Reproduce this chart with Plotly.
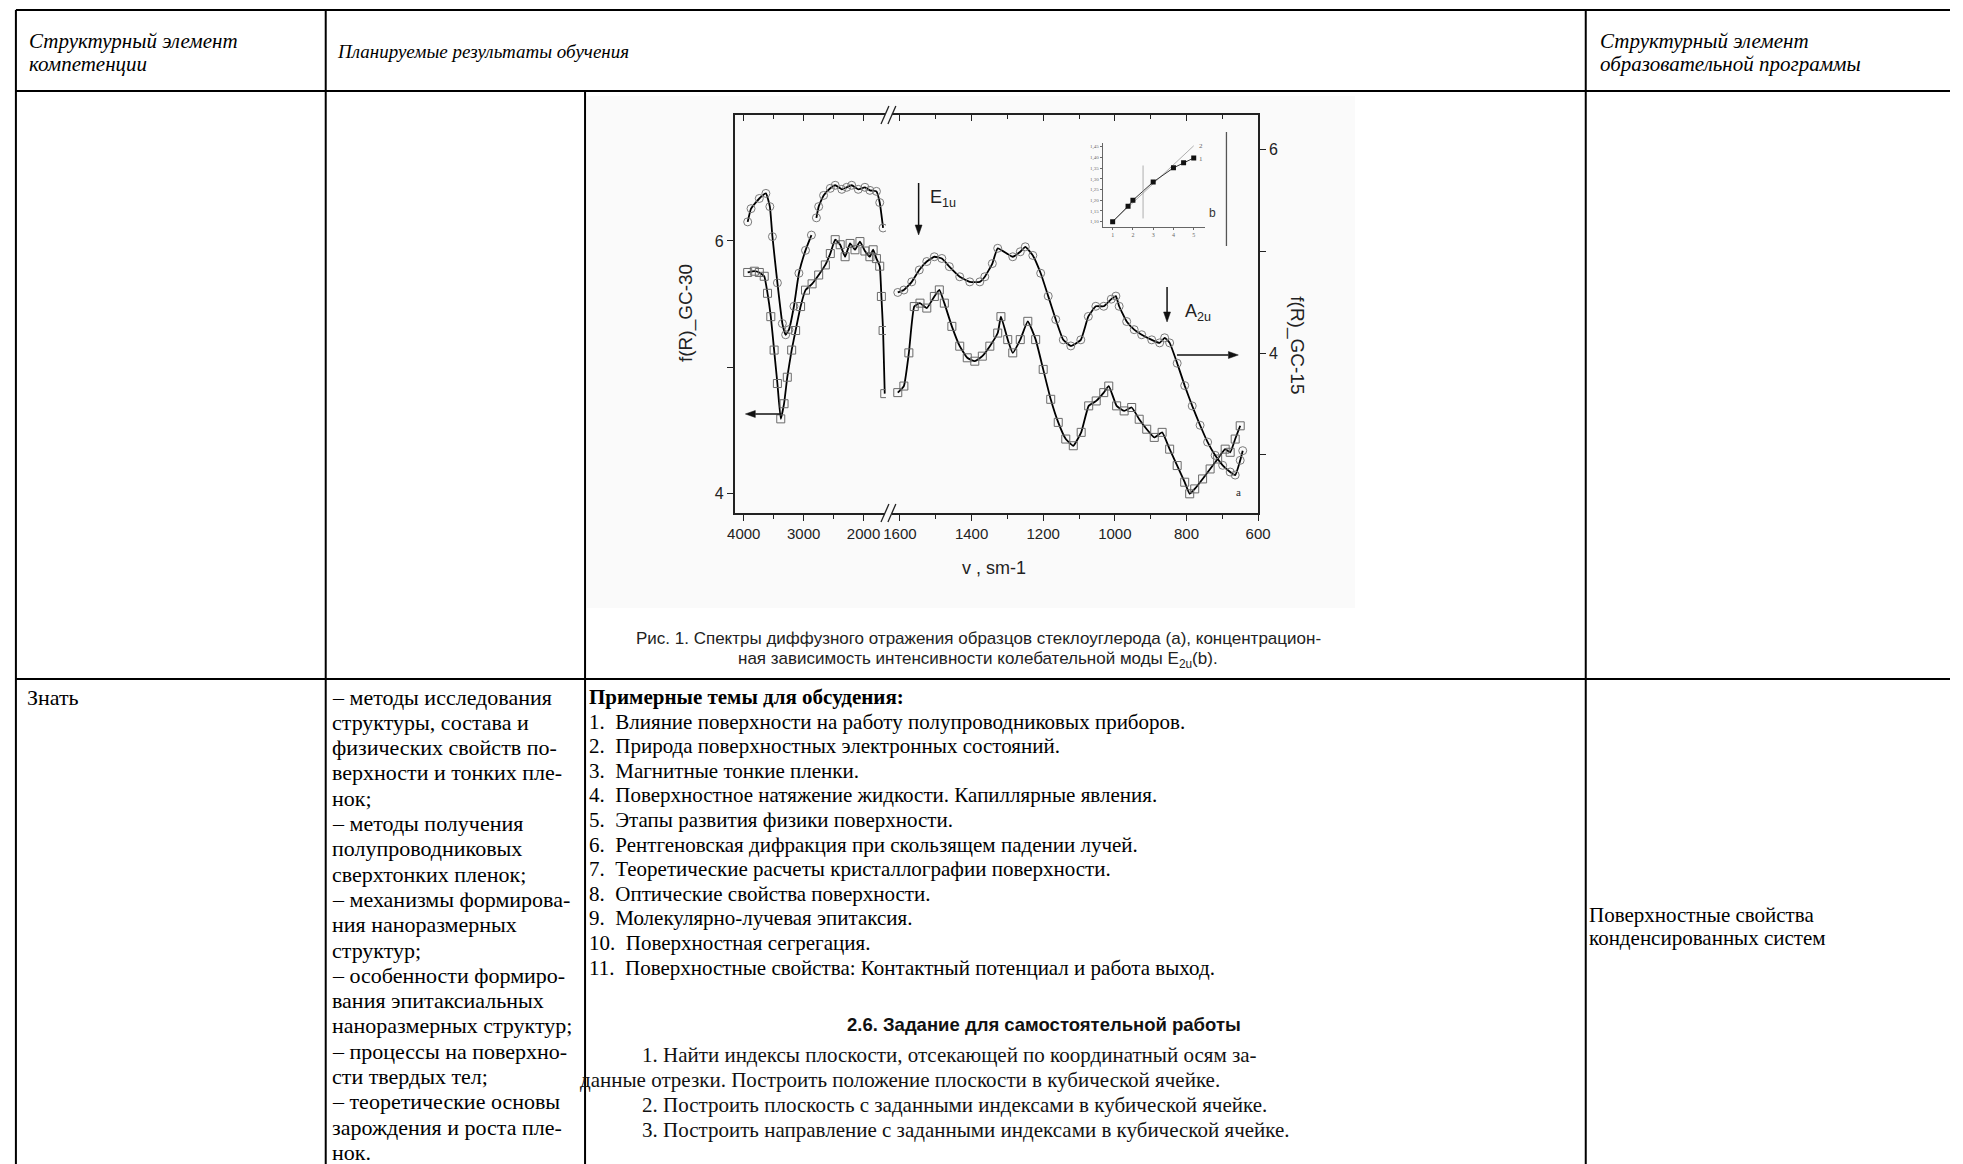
import math
import plotly.graph_objects as go

W, H = 1963, 1164

# ---------------- data ----------------
# left (broken) part of the wavenumber axis, cm^-1
wn_left_gc15 = [3934, 3878, 3740, 3630, 3564, 3521, 3438, 3355, 3300, 3245,
                3162, 3079, 2969, 2870, None, 2787, 2749, 2667, 2555, 2473,
                2363, 2281, 2198, 2088, 1977, 1894, 1785, 1730, 1674]
gc15_left = [5.29, 5.42, 5.52, 5.57, 5.44, 5.145, 4.69, 4.29, 4.18, 4.23,
             4.46, 4.785, 5.01, 5.16, None, 5.33, 5.44, 5.55, 5.62, 5.65,
             5.61, 5.63, 5.65, 5.61, 5.63, 5.60, 5.59, 5.48, 5.23]

wn_left_gc30 = [3934, 3823, 3740, 3658, 3603, 3548, 3493, 3438, 3382, 3327,
                3273, 3200, 3134, 3051, 2969, 2859, 2749, 2638, 2555, 2473,
                2390, 2308, 2225, 2143, 2060, 1977, 1894, 1840, 1785, 1730,
                1702, 1674, 1646]
gc30_left = [5.75, 5.76, 5.75, 5.72, 5.585, 5.40, 5.135, 4.87, 4.59, 4.71,
             4.92, 5.135, 5.29, 5.48, 5.61, 5.66, 5.73, 5.81, 5.90, 6.01,
             5.97, 5.875, 5.98, 5.93, 5.995, 5.92, 5.875, 5.93, 5.86, 5.80,
             5.56, 5.29, 4.79]

# right part of the wavenumber axis
wn_right_gc15 = [1606, 1589, 1567, 1546, 1525, 1504, 1483, 1462, 1433, 1405,
                 1377, 1363, 1342, 1327, 1285, 1264, 1250, 1229, 1207, 1186,
                 1165, 1144, 1123, 1095, 1074, 1053, 1031, 1010, 997, 988,
                 967, 946, 925, 897, 875, 861, 847, 826, 805, 784,
                 762, 741, 720, 699, 678, 664, 650, 643]
gc15_right = [4.596, 4.62, 4.70, 4.817, 4.90, 4.947, 4.93, 4.85, 4.75, 4.70,
              4.70, 4.75, 4.88, 5.03, 4.947, 4.996, 5.045, 4.96, 4.785, 4.56,
              4.33, 4.13, 4.07, 4.13, 4.36, 4.46, 4.46, 4.53, 4.56, 4.46,
              4.31, 4.23, 4.18, 4.13, 4.10, 4.15, 4.10, 3.90, 3.68, 3.48,
              3.29, 3.124, 2.994, 2.896, 2.83, 2.80, 2.945, 3.04]

wn_right_gc30 = [1606, 1589, 1575, 1560, 1544, 1525, 1504, 1490, 1476, 1455,
                 1433, 1412, 1391, 1370, 1349, 1327, 1318, 1299, 1285, 1264,
                 1243, 1221, 1200, 1179, 1158, 1137, 1116, 1094, 1073, 1052,
                 1031, 1017, 995, 974, 953, 932, 911, 890, 868, 847,
                 826, 805, 791, 777, 755, 734, 713, 692, 678, 664, 650]
gc30_right = [4.798, 4.85, 5.113, 5.48, 5.507, 5.468, 5.56, 5.612, 5.507, 5.323,
              5.166, 5.074, 5.047, 5.087, 5.166, 5.27, 5.40, 5.218, 5.113, 5.218,
              5.363, 5.218, 4.982, 4.745, 4.562, 4.43, 4.377, 4.483, 4.693, 4.732,
              4.798, 4.85, 4.693, 4.653, 4.68, 4.587, 4.508, 4.443, 4.483, 4.35,
              4.22, 4.088, 3.996, 4.035, 4.114, 4.193, 4.272, 4.35, 4.325, 4.43,
              4.535]

# inset (b)
inset_conc = [1, 1.76, 2, 3, 4, 4.5, 5]
inset_intensity = [1.10, 1.172, 1.20, 1.285, 1.351, 1.375, 1.397]
inset_line2_x = [1, 5]
inset_line2_y = [1.10, 1.454]

xticks_left = [4000, 3000, 2000]
xminor_left = [3500, 2500]
xticks_right = [1600, 1400, 1200, 1000, 800, 600]
xminor_right = [1500, 1300, 1100, 900, 700]

# ---------------- text ----------------
header_col1 = ["Структурный элемент", "компетенции"]
header_col2 = "Планируемые результаты обучения"
header_col4 = ["Структурный элемент", "образовательной программы"]
row_label = "Знать"
know_lines = [
    "– методы исследования", "структуры, состава и", "физических свойств по-",
    "верхности и тонких пле-", "нок;", "– методы получения",
    "полупроводниковых", "сверхтонких пленок;", "– механизмы формирова-",
    "ния наноразмерных", "структур;", "– особенности формиро-",
    "вания эпитаксиальных", "наноразмерных структур;", "– процессы на поверхно-",
    "сти твердых тел;", "– теоретические основы", "зарождения и роста пле-",
    "нок.",
]
topics_title = "Примерные темы для обсудения:"
topics = [
    "1.\u00a0\u00a0Влияние поверхности на работу полупроводниковых приборов.",
    "2.\u00a0\u00a0Природа поверхностных электронных состояний.",
    "3.\u00a0\u00a0Магнитные тонкие пленки.",
    "4.\u00a0\u00a0Поверхностное натяжение жидкости. Капиллярные явления.",
    "5.\u00a0\u00a0Этапы развития физики поверхности.",
    "6.\u00a0\u00a0Рентгеновская дифракция при скользящем падении лучей.",
    "7.\u00a0\u00a0Теоретические расчеты кристаллографии поверхности.",
    "8.\u00a0\u00a0Оптические свойства поверхности.",
    "9.\u00a0\u00a0Молекулярно-лучевая эпитаксия.",
    "10.\u00a0\u00a0Поверхностная сегрегация.",
    "11.\u00a0\u00a0Поверхностные свойства: Контактный потенциал и работа выход.",
]
task_title = "2.6. Задание для самостоятельной работы"
task_lines = [
    "1. Найти индексы плоскости, отсекающей по координатный осям за-",
    "данные отрезки. Построить положение плоскости в кубической ячейке.",
    "2. Построить плоскость с заданными индексами в кубической ячейке.",
    "3. Построить направление с заданными индексами в кубической ячейке.",
]
program_element = ["Поверхностные свойства", "конденсированных систем"]
caption = ["Рис. 1. Спектры диффузного отражения образцов стеклоуглерода (a), концентрацион-",
           "ная зависимость интенсивности колебательной моды E<sub>2u</sub>(b)."]


def X(px):
    return px / W


def Y(py):
    return 1 - py / H


SERIF = "Liberation Serif, Times New Roman, serif"
SANS = "Liberation Sans, Arial, sans-serif"
CH = "#222222"
BG_IMG = "#fafafa"

fig = go.Figure()

mk_line = dict(color="black", width=1.8, shape="spline", smoothing=0.4)
circ = dict(symbol="circle-open", size=8, color="#7a7a7a", line=dict(width=1))
sq = dict(symbol="square-open", size=8, color="#6a6a6a", line=dict(width=1))

fig.add_trace(go.Scatter(x=wn_left_gc15, y=gc15_left, xaxis="x", yaxis="y2",
                         mode="lines+markers", line=mk_line, marker=circ,
                         connectgaps=False, showlegend=False))
fig.add_trace(go.Scatter(x=wn_right_gc15, y=gc15_right, xaxis="x2", yaxis="y2",
                         mode="lines+markers", line=mk_line, marker=circ, showlegend=False))
fig.add_trace(go.Scatter(x=wn_left_gc30, y=gc30_left, xaxis="x", yaxis="y",
                         mode="lines+markers", line=mk_line, marker=sq, showlegend=False))
fig.add_trace(go.Scatter(x=wn_right_gc30, y=gc30_right, xaxis="x2", yaxis="y",
                         mode="lines+markers", line=mk_line, marker=sq, showlegend=False))
# invisible traces so the top mirror axes are drawn
fig.add_trace(go.Scatter(x=[3000], y=[5], xaxis="x3", yaxis="y", mode="markers",
                         marker=dict(opacity=0), showlegend=False, hoverinfo="skip"))
fig.add_trace(go.Scatter(x=[1000], y=[5], xaxis="x4", yaxis="y", mode="markers",
                         marker=dict(opacity=0), showlegend=False, hoverinfo="skip"))

# inset
fig.add_trace(go.Scatter(x=inset_line2_x, y=inset_line2_y, xaxis="x5", yaxis="y5",
                         mode="lines", line=dict(color="#9a9a9a", width=0.8), showlegend=False))
fig.add_trace(go.Scatter(x=inset_conc, y=inset_intensity, xaxis="x5", yaxis="y5",
                         mode="lines+markers", line=dict(color="#333", width=1),
                         marker=dict(symbol="square", size=5, color="#111"), showlegend=False))

px_left, px_break, px_right = 735, 888, 1264
py_top, py_bot = 115, 513
ydom = [Y(py_bot), Y(py_top)]
tickfont = dict(family=SANS, size=15, color=CH)

common_x = dict(showgrid=False, zeroline=False, showline=True, linecolor="#222", linewidth=1.5,
                ticks="outside", ticklen=6, tickwidth=1.3, tickcolor="#222", tickfont=tickfont)
common_top = dict(showgrid=False, zeroline=False, showline=True, linecolor="#222", linewidth=1.5,
                  ticks="inside", ticklen=6, tickcolor="#222", showticklabels=False,
                  side="top", anchor="y")

fig.update_layout(
    width=W, height=H, margin=dict(l=0, r=0, t=0, b=0),
    paper_bgcolor="white", plot_bgcolor="rgba(0,0,0,0)",
    xaxis=dict(domain=[X(px_left), X(px_break)], range=[4154, 1626], anchor="y",
               tickvals=xticks_left,
               minor=dict(tickvals=xminor_left, ticklen=4, ticks="outside", tickcolor="#222"),
               **common_x),
    xaxis2=dict(domain=[X(px_break), X(px_right)], range=[1639, 600], anchor="y",
                tickvals=xticks_right,
                minor=dict(tickvals=xminor_right, ticklen=4, ticks="outside", tickcolor="#222"),
                **common_x),
    xaxis3=dict(overlaying="x", range=[4154, 1626], tickvals=xticks_left,
                minor=dict(tickvals=xminor_left, ticklen=4, ticks="inside", tickcolor="#222"),
                **common_top),
    xaxis4=dict(overlaying="x2", range=[1639, 600], tickvals=xticks_right,
                minor=dict(tickvals=xminor_right, ticklen=4, ticks="inside", tickcolor="#222"),
                **common_top),
    yaxis=dict(domain=ydom, range=[3.844, 6.998], anchor="x", side="left",
               tickvals=[4, 6], minor=dict(tickvals=[5], ticklen=6, ticks="outside",
                                           tickcolor="#222"),
               showgrid=False, zeroline=False,
               showline=True, linecolor="#222", linewidth=1.5, ticks="outside", ticklen=6,
               tickcolor="#222", tickfont=dict(family=SANS, size=16, color=CH)),
    yaxis2=dict(domain=ydom, range=[2.427, 6.341], overlaying="y", anchor="x2", side="right",
                tickvals=[4, 6], minor=dict(tickvals=[3, 5], ticklen=6, ticks="outside",
                                            tickcolor="#222"),
                showgrid=False,
                zeroline=False, showline=True, linecolor="#222", linewidth=1.5,
                ticks="outside", ticklen=6, tickcolor="#222",
                tickfont=dict(family=SANS, size=16, color=CH)),
    xaxis5=dict(domain=[X(1107), X(1210)], range=[0.51, 5.54], anchor="y5", showgrid=False,
                zeroline=False, showline=True, linecolor="#666", linewidth=0.8,
                ticks="outside", ticklen=2, tickcolor="#666", tickvals=[1, 2, 3, 4, 5],
                tickfont=dict(family=SERIF, size=6, color="#666")),
    yaxis5=dict(domain=[Y(227), Y(143)], range=[1.075, 1.467], anchor="x5", showgrid=False,
                zeroline=False, showline=True, linecolor="#666", linewidth=0.8,
                ticks="outside", ticklen=2, tickcolor="#666",
                tickvals=[1.10, 1.15, 1.20, 1.25, 1.30, 1.35, 1.40, 1.45],
                ticktext=["1,10", "1,15", "1,20", "1,25", "1,30", "1,35", "1,40", "1,45"],
                tickfont=dict(family=SERIF, size=5, color="#666")),
)

shapes = []
# faint background of the embedded picture
shapes.append(dict(type="rect", xref="paper", yref="paper", x0=X(586), x1=X(1362),
                   y0=Y(608), y1=Y(96), fillcolor=BG_IMG, line=dict(width=0), layer="below"))


def hline(y, x0, x1, w=2):
    shapes.append(dict(type="line", xref="paper", yref="paper", x0=X(x0), x1=X(x1),
                       y0=Y(y), y1=Y(y), line=dict(color="black", width=w)))


def vline(x, y0, y1, w=2, color="black"):
    shapes.append(dict(type="line", xref="paper", yref="paper", x0=X(x), x1=X(x),
                       y0=Y(y0), y1=Y(y1), line=dict(color=color, width=w)))


def seg(x0, y0, x1, y1, w=1.3, color="#222"):
    shapes.append(dict(type="line", xref="paper", yref="paper", x0=X(x0), x1=X(x1),
                       y0=Y(y0), y1=Y(y1), line=dict(color=color, width=w)))


def arrow(hx, hy, tx, ty, L=10, hw=3.5):
    d = math.hypot(hx - tx, hy - ty)
    ux, uy = (hx - tx) / d, (hy - ty) / d
    bx, by = hx - ux * L, hy - uy * L
    seg(tx, ty, bx, by, w=1.5, color="#111")
    p1 = (bx - uy * hw, by + ux * hw)
    p2 = (bx + uy * hw, by - ux * hw)
    path = "M {:.5f},{:.5f} L {:.5f},{:.5f} L {:.5f},{:.5f} Z".format(
        X(hx), Y(hy), X(p1[0]), Y(p1[1]), X(p2[0]), Y(p2[1]))
    shapes.append(dict(type="path", xref="paper", yref="paper", path=path,
                       fillcolor="#111", line=dict(color="#111", width=0.5)))


# table grid
hline(10, 9, 1963)
hline(91, 9, 1963)
hline(679, 9, 1963)
vline(9, 10, 1164)
vline(322, 10, 1164)
vline(584, 91, 1164)
vline(1595, 10, 1164)

# axis break marks
for yb in (py_top, py_bot):
    shapes.append(dict(type="rect", xref="paper", yref="paper", x0=X(887), x1=X(894),
                       y0=Y(yb + 3), y1=Y(yb - 3), fillcolor=BG_IMG,
                       line=dict(width=0), layer="above"))
    seg(883, yb + 9, 891, yb - 9)
    seg(890, yb + 9, 898, yb - 9)

# inset decorations
shapes.append(dict(type="line", xref="x5", yref="y5", x0=2.5, x1=2.5, y0=1.115, y1=1.362,
                   line=dict(color="#999", width=0.8)))
vline(1232, 132, 246, w=1.3, color="#555")

# arrows
arrow(921, 235, 921, 183)
arrow(1172, 322, 1172, 287)
arrow(1244, 355, 1182, 355)
arrow(746, 414, 782, 414)

fig.update_layout(shapes=shapes)

ann = []


def text(t, x, y, size, family=SERIF, xanchor="left", yanchor="middle", color="black",
         angle=0):
    ann.append(dict(text=t, x=X(x), y=Y(y), xref="paper", yref="paper", showarrow=False,
                    xanchor=xanchor, yanchor=yanchor, textangle=angle,
                    font=dict(family=family, size=size, color=color)))


# header
text("<i>" + header_col1[0] + "</i>", 20, 41, 21)
text("<i>" + header_col1[1] + "</i>", 20, 64, 21)
text("<i>" + header_col2 + "</i>", 331, 52, 19)
text("<i>" + header_col4[0] + "</i>", 1607, 41, 21)
text("<i>" + header_col4[1] + "</i>", 1607, 64, 21)

# row "Знать"
text(row_label, 18, 697, 22)
for i, ln in enumerate(know_lines):
    text(ln, 326, 697 + 25.3 * i, 22)

text("<b>" + topics_title + "</b>", 586, 697, 21)
for i, ln in enumerate(topics):
    text(ln, 586, 697 + 24.6 * (i + 1), 21)

text("<b>" + task_title + "</b>", 1048, 1024, 18.5, family=SANS, xanchor="center", color="#111")
text(task_lines[0], 640, 1055, 21, color="#111")
text(task_lines[1], 577, 1080, 21, color="#111")
text(task_lines[2], 640, 1105, 21, color="#111")
text(task_lines[3], 640, 1130, 21, color="#111")

text(program_element[0], 1596, 915, 21)
text(program_element[1], 1596, 938, 21)

# caption
text(caption[0], 981, 638, 17, family=SANS, xanchor="center", color=CH)
text(caption[1], 981, 660, 17, family=SANS, xanchor="center", color=CH)

# chart texts
text("f(R)_GC-30", 686, 313, 19, family=SANS, xanchor="center", color=CH, angle=-90)
text("f(R)_GC-15", 1303, 345, 19, family=SANS, xanchor="center", color=CH, angle=90)
text("v , sm-1", 997, 568, 18, family=SANS, xanchor="center", color=CH)
text("E<sub>1u</sub>", 930, 198, 18, family=SANS, color=CH)
text("A<sub>2u</sub>", 1188, 313, 18, family=SANS, color=CH)
text("a", 1244, 492, 11, family=SERIF, xanchor="center", color=CH)
text("b", 1218, 213, 12, family=SANS, xanchor="center", color="#333")
ann.append(dict(text="2", x=5.38, y=1.452, xref="x5", yref="y5", showarrow=False,
                font=dict(family=SERIF, size=7, color="#666")))
ann.append(dict(text="1", x=5.38, y=1.392, xref="x5", yref="y5", showarrow=False,
                font=dict(family=SERIF, size=7, color="#666")))

fig.update_layout(annotations=ann)

# remove the browser's default page margin so the 1963x1164 figure fills the window exactly
fig.write_html("out.html", config={"displayModeBar": False},
               post_script="document.body.style.margin='0px';"
                           "document.body.style.overflow='hidden';")
